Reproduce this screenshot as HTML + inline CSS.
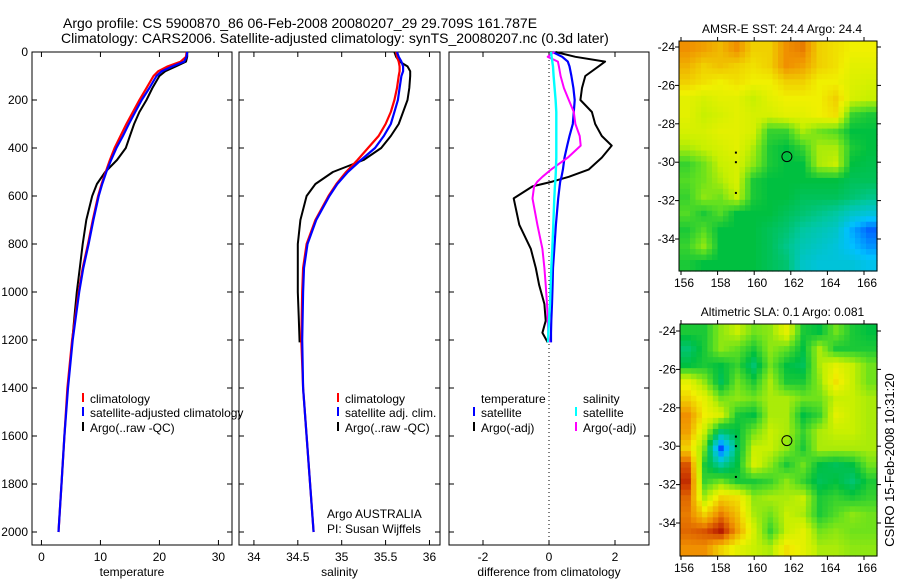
<!DOCTYPE html>
<html><head><meta charset="utf-8"><style>
html,body{margin:0;padding:0;background:#fff;}
svg{display:block;font-family:"Liberation Sans",sans-serif;}
</style></head><body>
<svg id="c" width="900" height="580" viewBox="0 0 900 580">
<text x="63" y="28" font-size="14">Argo profile: CS 5900870_86 06-Feb-2008 20080207_29 29.709S 161.787E</text>
<text x="61" y="43" font-size="14">Climatology: CARS2006. Satellite-adjusted climatology: synTS_20080207.nc (0.3d later)</text>
<text transform="translate(894,460) rotate(-90)" text-anchor="middle" font-size="13">CSIRO 15-Feb-2008 10:31:20</text>
</svg>
<script>
// ---------- data ----------
const depthTicks=[0,200,400,600,800,1000,1200,1400,1600,1800,2000];
const tempTicks=[0,10,20,30];
const salTicks=[34,34.5,35,35.5,36];
const diffTicks=[-2,0,2];
const climDepth=[0,20,40,60,80,100,150,200,250,300,350,400,450,500,550,600,700,800,900,1000,1200,1400,1600,1800,2000];
const tempClim=[24.6,24.5,23.6,21.4,19.8,19.0,17.8,16.6,15.5,14.4,13.4,12.4,11.6,10.9,10.2,9.6,8.7,7.9,7.0,6.3,5.2,4.4,3.9,3.4,2.9];
const tempSat=[24.7,24.6,24.2,22.2,20.4,19.5,18.3,17.0,15.9,14.8,13.8,12.7,11.8,11.0,10.3,9.7,8.8,8.0,7.1,6.4,5.3,4.5,3.9,3.4,2.9];
const salClim=[35.62,35.63,35.65,35.66,35.66,35.65,35.63,35.6,35.56,35.5,35.42,35.3,35.18,35.05,34.94,34.85,34.7,34.6,34.56,34.55,34.54,34.56,34.6,34.64,34.68];
const salSat=[35.63,35.65,35.68,35.7,35.7,35.68,35.66,35.64,35.6,35.56,35.48,35.38,35.22,35.07,34.95,34.86,34.71,34.61,34.57,34.56,34.55,34.56,34.6,34.64,34.68];
const argoDepth=[0,20,40,60,80,100,150,200,250,300,350,400,450,500,550,600,700,800,900,1000,1100,1210];
const tempArgo=[24.7,24.7,24.5,22.8,21.0,20.0,18.8,17.8,16.6,15.7,15.0,14.3,12.8,10.8,9.4,8.6,7.6,7.0,6.5,6.0,5.6,5.2];
const salArgo=[35.6,35.62,35.66,35.75,35.78,35.78,35.77,35.75,35.7,35.65,35.56,35.45,35.25,34.9,34.7,34.6,34.53,34.5,34.5,34.5,34.51,34.52];
const diffDepth=[0,20,40,60,100,150,200,250,300,350,390,440,490,520,540,560,610,720,820,900,970,1050,1120,1170,1210];
const dTempArgo=[0.2,0.8,1.7,1.5,1.1,1.0,0.95,1.3,1.4,1.6,1.9,1.6,1.2,0.6,0.1,-0.5,-1.07,-0.9,-0.55,-0.4,-0.3,-0.14,-0.1,-0.2,-0.04];
const dTempSat=[0.11,0.4,0.57,0.62,0.68,0.74,0.78,0.75,0.72,0.62,0.55,0.47,0.42,0.38,0.34,0.32,0.28,0.21,0.16,0.12,0.11,0.09,0.07,0.06,0.06];
const dSalArgo=[0.16,-0.04,0.27,0.3,0.35,0.45,0.6,0.75,0.8,0.93,0.96,0.57,0.06,-0.2,-0.35,-0.45,-0.5,-0.35,-0.2,-0.14,-0.1,-0.06,-0.04,-0.02,0.01];
const dSalSat=[0.06,0.08,0.1,0.12,0.14,0.17,0.2,0.22,0.22,0.22,0.22,0.22,0.21,0.2,0.19,0.18,0.16,0.13,0.1,0.07,0.05,0.03,0.0,-0.02,-0.03];
const lonTicks=[156,158,160,162,164,166];
const latTicks=[-24,-26,-28,-30,-32,-34];
const sstGrid=[
[.80,.78,.75,.8,.72,.72,.8,.82,.72,.7,.68,.68],
[.76,.72,.74,.72,.7,.72,.8,.78,.72,.7,.66,.66],
[.72,.70,.68,.70,.68,.68,.72,.72,.68,.68,.65,.64],
[.66,.64,.66,.66,.62,.66,.68,.68,.68,.72,.64,.62],
[.66,.62,.64,.66,.64,.64,.66,.66,.68,.70,.52,.50],
[.64,.64,.66,.66,.64,.52,.52,.60,.56,.54,.48,.48],
[.60,.62,.64,.66,.60,.50,.48,.52,.60,.60,.50,.48],
[.52,.56,.62,.64,.58,.50,.48,.48,.60,.62,.48,.47],
[.54,.56,.60,.64,.50,.48,.48,.48,.48,.48,.46,.46],
[.52,.58,.56,.62,.50,.48,.48,.46,.46,.46,.44,.42],
[.54,.50,.54,.48,.48,.48,.46,.44,.42,.40,.36,.34],
[.50,.54,.48,.48,.48,.46,.44,.40,.38,.36,.28,.22],
[.52,.58,.48,.48,.48,.46,.42,.38,.36,.34,.30,.26],
[.50,.48,.48,.48,.48,.46,.44,.36,.34,.34,.34,.32]];
const slaGrid=[
[.50,.50,.58,.62,.56,.58,.66,.50,.48,.56,.50,.48],
[.44,.50,.58,.55,.50,.58,.55,.48,.60,.50,.50,.50],
[.48,.50,.48,.52,.44,.56,.48,.46,.60,.66,.62,.56],
[.66,.58,.46,.56,.50,.60,.50,.50,.58,.70,.62,.56],
[.72,.66,.56,.58,.56,.60,.60,.56,.56,.62,.62,.60],
[.80,.68,.64,.50,.48,.60,.60,.48,.52,.66,.62,.60],
[.78,.62,.44,.48,.56,.62,.60,.52,.60,.62,.62,.60],
[.72,.56,.20,.46,.62,.62,.58,.50,.60,.60,.60,.60],
[.86,.50,.40,.48,.64,.58,.50,.56,.48,.46,.48,.56],
[.90,.52,.56,.50,.50,.52,.58,.52,.46,.48,.44,.50],
[.84,.60,.72,.70,.58,.60,.60,.62,.50,.52,.50,.52],
[.82,.72,.82,.74,.60,.56,.62,.60,.50,.54,.58,.56],
[.84,.86,.92,.78,.64,.52,.62,.66,.56,.58,.56,.56],
[.80,.80,.72,.66,.62,.60,.70,.66,.60,.60,.58,.58]];
const floatLon=161.787, floatLat=-29.709;

// ---------- helpers ----------
const svg=document.getElementById('c');
const NS='http://www.w3.org/2000/svg';
function mk(t,a,parent){const e=document.createElementNS(NS,t);for(const k in a)e.setAttribute(k,a[k]);(parent||svg).appendChild(e);return e;}
const Y0=52,Y1=545;
const yD=d=>52+d*0.24;
function panel(name,x0,x1,xmin,xmax,ticks,label){
  const xs=v=>x0+(v-xmin)/(xmax-xmin)*(x1-x0);
  const g=mk('g',{});
  
  
  const fr=mk('rect',{x:x0,y:Y0,width:x1-x0,height:Y1-Y0,fill:'none',stroke:'#000','stroke-width':1},g);
  
  
  ticks.forEach(t=>{const x=xs(t);
    mk('line',{x1:x,x2:x,y1:Y1,y2:Y1-5,stroke:'#000'},g);
    mk('line',{x1:x,x2:x,y1:Y0,y2:Y0+5,stroke:'#000'},g);
    const tx=mk('text',{x:x,y:561,'font-size':12,'text-anchor':'middle'},g);tx.textContent=t;
    
    
  });
  depthTicks.forEach(d=>{const y=yD(d);
    mk('line',{x1:x0,x2:x0+5,y1:y,y2:y,stroke:'#000'},g);
    mk('line',{x1:x1,x2:x1-5,y1:y,y2:y,stroke:'#000'},g);
  });
  const xl=mk('text',{x:(x0+x1)/2,y:576,'font-size':12,'text-anchor':'middle'},g);xl.textContent=label;
  
  
  return {xs,g};
}
function line(p,vals,depths,color,w,name){
  let d='';vals.forEach((v,i)=>{d+=(i?'L':'M')+p.xs(v).toFixed(1)+','+yD(depths[i]).toFixed(1);});
  const e=mk('path',{d:d,fill:'none',stroke:color,'stroke-width':w,'stroke-linejoin':'round'},p.g);
  
  
}
function legend(g,x,y,color,text,name){
  if(color){mk('line',{x1:x-7,x2:x-7,y1:y-10,y2:y-1,stroke:color,'stroke-width':2},g);}
  const t=mk('text',{x:x,y:y,'font-size':12},g);t.textContent=text;
  
  
}

depthTicks.forEach(d=>{const t=mk('text',{x:28,y:yD(d)+4,'font-size':12,'text-anchor':'end'});t.textContent=d;
  
  });

const pT=panel('temperature-panel',32,232,-1.6,32.3,tempTicks,'temperature');
line(pT,tempArgo,argoDepth,'#000',2,'temp-argo-line');
line(pT,tempClim,climDepth,'#f00',2.2,'temp-climatology-line');
line(pT,tempSat,climDepth,'#00f',2.2,'temp-satellite-line');
legend(pT.g,90,403,'#f00','climatology','legend-climatology');
legend(pT.g,90,417,'#00f','satellite-adjusted climatology','legend-satellite');
legend(pT.g,90,432,'#000','Argo(..raw -QC)','legend-argo');

const pS=panel('salinity-panel',239,440,33.83,36.12,salTicks,'salinity');
line(pS,salArgo,argoDepth,'#000',2,'sal-argo-line');
line(pS,salClim,climDepth,'#f00',2.2,'sal-climatology-line');
line(pS,salSat,climDepth,'#00f',2.2,'sal-satellite-line');
legend(pS.g,345,403,'#f00','climatology','legend-sal-climatology');
legend(pS.g,345,417,'#00f','satellite adj. clim.','legend-sal-satellite');
legend(pS.g,345,432,'#000','Argo(..raw -QC)','legend-sal-argo');
legend(pS.g,327,518,null,'Argo AUSTRALIA','agency-label');
legend(pS.g,327,533,null,'PI: Susan Wijffels','pi-label');

const pD=panel('difference-panel',449,649,-3.03,3.03,diffTicks,'difference from climatology');
mk('line',{x1:pD.xs(0),x2:pD.xs(0),y1:Y0,y2:Y1,stroke:'#000','stroke-dasharray':'1,3'},pD.g);
line(pD,dTempArgo,diffDepth,'#000',2,'diff-temp-argo-line');
line(pD,dTempSat,diffDepth,'#00f',2.2,'diff-temp-satellite-line');
line(pD,dSalArgo,diffDepth,'#f0f',2,'diff-sal-argo-line');
line(pD,dSalSat,diffDepth,'#0ff',2.4,'diff-sal-satellite-line');
legend(pD.g,481,403,null,'temperature','legend-temperature-heading');
legend(pD.g,583,403,null,'salinity','legend-salinity-heading');
legend(pD.g,481,417,'#00f','satellite','legend-diff-temp-satellite');
legend(pD.g,481,432,'#000','Argo(-adj)','legend-diff-temp-argo');
legend(pD.g,583,417,'#0ff','satellite','legend-diff-sal-satellite');
legend(pD.g,583,432,'#f0f','Argo(-adj)','legend-diff-sal-argo');

// ---------- maps ----------
const stops=[[0,[0,0,160]],[0.2,[0,80,255]],[0.3,[0,192,255]],[0.4,[0,200,160]],[0.48,[0,192,64]],[0.55,[96,224,32]],[0.62,[200,240,0]],[0.68,[240,240,0]],[0.74,[240,192,0]],[0.8,[240,144,0]],[0.88,[208,64,0]],[0.95,[160,0,0]],[1,[128,0,0]]];
function cmap(v){for(let i=1;i<stops.length;i++){if(v<=stops[i][0]){const a=stops[i-1],b=stops[i];const f=(v-a[0])/(b[0]-a[0]);
  const c=a[1].map((x,k)=>Math.round(x+(b[1][k]-x)*f));return 'rgb('+c.join(',')+')';}}return 'rgb(128,0,0)';}
function sample(grid,fi,fj){
  const R=grid.length,C=grid[0].length;
  fi=Math.max(0,Math.min(R-1,fi));fj=Math.max(0,Math.min(C-1,fj));
  const i0=Math.floor(fi),j0=Math.floor(fj),i1=Math.min(R-1,i0+1),j1=Math.min(C-1,j0+1);
  const a=fi-i0,b=fj-j0;
  return grid[i0][j0]*(1-a)*(1-b)+grid[i0][j1]*(1-a)*b+grid[i1][j0]*a*(1-b)+grid[i1][j1]*a*b;
}
function map(name,title,grid,x0,x1,y0,y1,lat24y,lat34y){
  const g=mk('g',{});
  
  
  const lonS=l=>681+(l-156)*(864-681)/10;
  const latS=l=>lat24y+(-l-24)*(lat34y-lat24y)/10;
  const U=3,rows=grid.length*U,cols=grid[0].length*U,cw=(x1-x0)/cols,ch=(y1-y0)/rows;
  for(let i=0;i<rows;i++)for(let j=0;j<cols;j++){
    const v=sample(grid,(i+0.5)/U-0.5,(j+0.5)/U-0.5);
    const c=mk('rect',{x:(x0+j*cw).toFixed(2),y:(y0+i*ch).toFixed(2),width:(cw+0.6).toFixed(2),height:(ch+0.6).toFixed(2),fill:cmap(v)},g);
    
    
  }
  mk('rect',{x:x0,y:y0,width:x1-x0,height:y1-y0,fill:'none',stroke:'#000'},g);
  lonTicks.forEach(l=>{const x=lonS(l);
    mk('line',{x1:x,x2:x,y1:y1,y2:y1+4,stroke:'#000'},g);mk('line',{x1:x,x2:x,y1:y0,y2:y0-4,stroke:'#000'},g);
    const t=mk('text',{x:x+3,y:y1+16,'font-size':12,'text-anchor':'middle'},g);t.textContent=l;
    
    });
  latTicks.forEach(l=>{const y=latS(l);
    mk('line',{x1:x0,x2:x0-4,y1:y,y2:y,stroke:'#000'},g);mk('line',{x1:x1,x2:x1+4,y1:y,y2:y,stroke:'#000'},g);
    const t=mk('text',{x:x0-4,y:y+4,'font-size':12,'text-anchor':'end'},g);t.textContent=l;
    
    });
  const tt=mk('text',{x:(x0+x1)/2+4,y:y0-8,'font-size':12,'text-anchor':'middle'},g);tt.textContent=title;
  
  
  const ci=mk('circle',{cx:lonS(floatLon),cy:latS(floatLat),r:5,fill:'none',stroke:'#000'},g);
  
  
  [[-29.5],[-30],[-31.6]].forEach(p=>{const d=mk('rect',{x:lonS(159)-1,y:latS(p[0])-1,width:2,height:2,fill:'#000'},g);
    
    });
}
map('sst-map','AMSR-E SST: 24.4 Argo: 24.4',sstGrid,679,877,41,271,47,239);
map('sla-map','Altimetric SLA: 0.1 Argo: 0.081',slaGrid,680,877,324,556,331,523);
</script>
</body></html>
